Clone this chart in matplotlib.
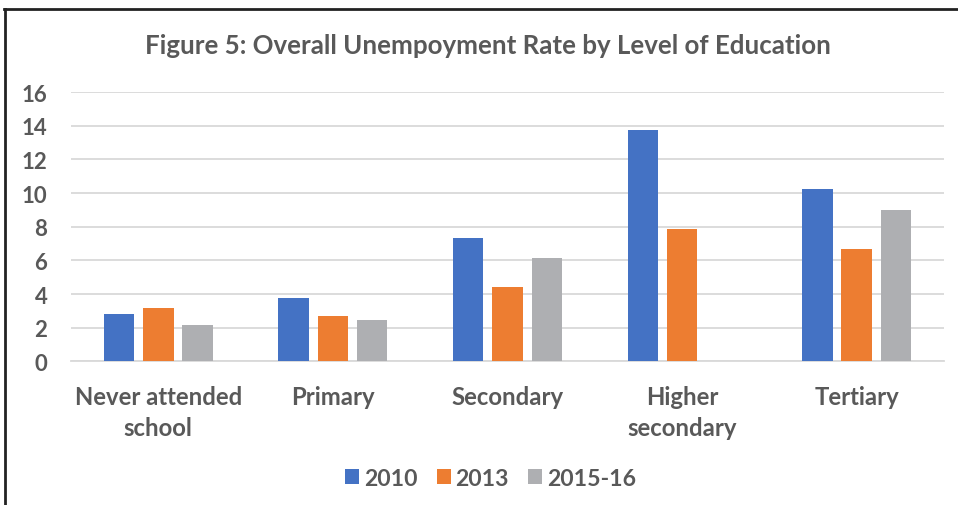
import numpy as np
import matplotlib.pyplot as plt
from matplotlib.lines import Line2D

# unemployment rate (%) by level of education
categories = ["Never attended\nschool", "Primary", "Secondary", "Higher\nsecondary", "Tertiary"]
rate_2010 = [2.82, 3.79, 7.32, 13.74, 10.25]
rate_2013 = [3.15, 2.68, 4.40, 7.87, 6.70]
rate_2015_16 = [2.18, 2.48, 6.17, np.nan, 8.98]
series_names = ["2010", "2013", "2015-16"]
yticks = [0, 2, 4, 6, 8, 10, 12, 14, 16]

colors = ["#4472C4", "#ED7D31", "#AEAFB2"]
text_color = "#595959"
plt.rcParams['font.family'] = ['Lato', 'DejaVu Sans']

fig = plt.figure(figsize=(9.58, 5.06), dpi=100)
ax = fig.add_axes([0.0741, 0.2836, 0.9113, 0.5326])

x = np.arange(len(categories))
width = 0.175
step = 0.225
for i, (vals, name) in enumerate(zip([rate_2010, rate_2013, rate_2015_16], series_names)):
    ax.bar(x + (i - 1) * step, vals, width, color=colors[i], label=name, zorder=3)

ax.set_xlim(-0.5, len(categories) - 0.5)
ax.set_ylim(0, 16)
ax.set_yticks(yticks)
ax.set_xticks(x)
ax.set_xticklabels(categories, linespacing=1.4)
ax.tick_params(axis='y', length=0, pad=17, labelsize=16, labelcolor=text_color)
ax.tick_params(axis='x', length=0, pad=17, labelsize=17.2, labelcolor=text_color)
for lbl in ax.get_yticklabels() + ax.get_xticklabels():
    lbl.set_fontweight('bold')
ax.grid(axis='y', color='#D9D9D9', linewidth=1.3, zorder=0)
for side in ['top', 'right', 'left']:
    ax.spines[side].set_visible(False)
ax.spines['bottom'].set_color('#D9D9D9')
ax.spines['bottom'].set_linewidth(1.3)

fig.text(0.509, 0.909, "Figure 5: Overall Unempoyment Rate by Level of Education",
         ha='center', va='center', fontsize=18.6, fontweight='bold', color=text_color)

leg = fig.legend(loc='center', bbox_to_anchor=(0.512, 0.053), ncol=3, frameon=False,
                 handlelength=0.6, handleheight=0.6, handletextpad=0.2, columnspacing=0.85,
                 prop={'size': 16.6, 'weight': 'bold'})
for t in leg.get_texts():
    t.set_color(text_color)

# frame lines along the top and left edges
fig.add_artist(Line2D([0.004, 1.0], [0.981, 0.981], color='#222222', linewidth=2))
fig.add_artist(Line2D([0.005, 0.005], [0.0, 0.981], color='#222222', linewidth=2))

fig.savefig("out.png", dpi=100, facecolor='white')
